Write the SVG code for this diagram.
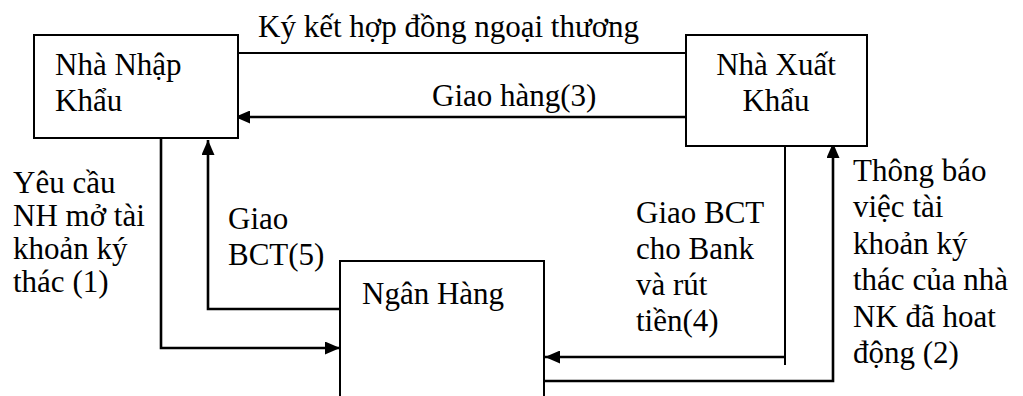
<svg xmlns="http://www.w3.org/2000/svg" width="1023" height="396" viewBox="0 0 1023 396">
  <style>
    .box { fill: #ffffff; stroke: #000000; stroke-width: 2; }
    .line { fill: none; stroke: #000000; stroke-width: 2; }
    .flow { fill: none; stroke: #000000; stroke-width: 2.6; }
    .t { font-family: 'Liberation Serif', 'Times New Roman', serif; font-size: 31px; fill: #000000; }
  </style>
  <defs>
    <marker id="arrow" viewBox="0 0 15 13" refX="15" refY="6.5" markerWidth="15" markerHeight="13" markerUnits="userSpaceOnUse" orient="auto">
      <path d="M0,0 L15,6.5 L0,13 Z" fill="#000000"/>
    </marker>
  </defs>
  <rect width="1023" height="396" fill="#ffffff"/>

  <!-- connectors -->
  <g id="connectors">
    <path class="line" d="M238,53 H686"/>
    <path class="flow" d="M689,117 H235" marker-end="url(#arrow)"/>
    <path class="flow" d="M161,138 V348 H340" marker-end="url(#arrow)"/>
    <path class="flow" d="M340,309 H208 V140" marker-end="url(#arrow)"/>
    <path class="line" d="M785,146 V365"/>
    <path class="flow" d="M785,357 H545" marker-end="url(#arrow)"/>
    <path class="flow" d="M544,381 H833 V143" marker-end="url(#arrow)"/>
  </g>

  <!-- connector labels -->
  <g id="labels" class="t">
    <text x="258" y="37">Ký kết hợp đồng ngoại thương</text>
    <text x="432" y="106">Giao hàng(3)</text>
    <text x="13" y="193">Yêu cầu</text>
    <text x="13" y="226">NH mở tài</text>
    <text x="13" y="259">khoản ký</text>
    <text x="13" y="292">thác (1)</text>
    <text x="228" y="229">Giao</text>
    <text x="228" y="265">BCT(5)</text>
    <text x="636" y="223">Giao BCT</text>
    <text x="636" y="259">cho Bank</text>
    <text x="636" y="295">và rút</text>
    <text x="636" y="331">tiền(4)</text>
    <text x="853" y="181">Thông báo</text>
    <text x="853" y="217">việc tài</text>
    <text x="853" y="254">khoản ký</text>
    <text x="853" y="290">thác của nhà</text>
    <text x="853" y="327">NK đã hoat</text>
    <text x="853" y="363">động (2)</text>
  </g>

  <g id="nha-nhap-khau" class="t">
    <rect class="box" x="34" y="35" width="204" height="103"/>
    <text x="55" y="75">Nhà Nhập</text>
    <text x="55" y="111">Khẩu</text>
  </g>

  <g id="nha-xuat-khau" class="t">
    <rect class="box" x="686" y="35" width="181" height="111"/>
    <text x="776" y="75" text-anchor="middle">Nhà Xuất</text>
    <text x="776" y="111" text-anchor="middle">Khẩu</text>
  </g>

  <g id="ngan-hang" class="t">
    <rect class="box" x="340" y="261" width="204" height="150"/>
    <text x="362" y="304">Ngân Hàng</text>
  </g>
</svg>
